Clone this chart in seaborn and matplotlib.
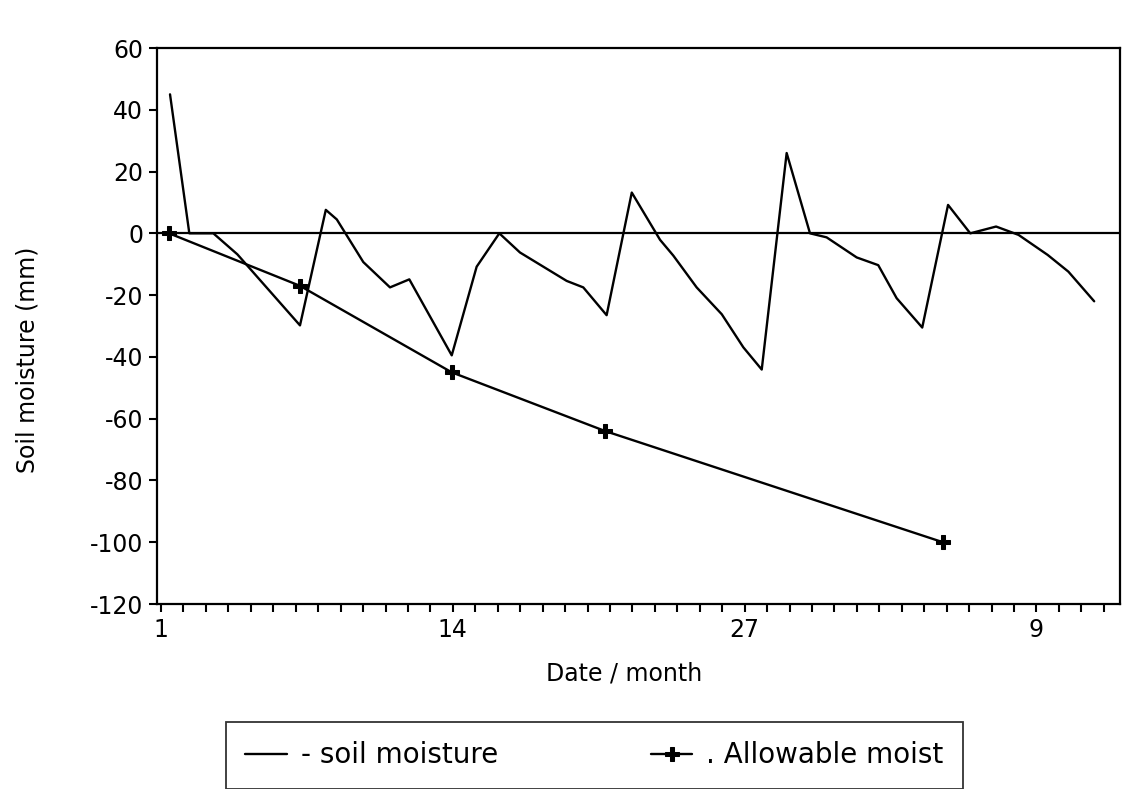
import matplotlib
matplotlib.use("Agg")
import matplotlib.pyplot as plt
import seaborn as sns

# soil moisture balance (x in days from day 1 of the month)
soil_day = [1.40, 2.26, 3.33, 4.40, 7.19, 8.34, 8.83, 10.01, 11.20, 12.06,
            13.95, 15.06, 16.07, 16.99, 19.07, 19.81, 20.85, 21.97, 23.23, 23.82,
            24.86, 25.98, 26.94, 27.76, 28.87, 29.91, 30.65, 31.99, 32.95, 33.77,
            34.91, 36.06, 37.05, 38.20, 39.20, 40.50, 41.42, 42.57]
soil_mm = [45, 0, 0, -6.8, -29.8, 7.6, 4.5, -9.3, -17.5, -14.9,
           -39.5, -10.8, 0, -6.2, -15.4, -17.5, -26.5, 13.2, -2.1, -7.2,
           -17.5, -26.2, -36.9, -44.1, 26, 0, -1.3, -7.8, -10.3, -21,
           -30.5, 9.2, 0, 2.2, -0.5, -7, -12.4, -22]

allow_day = [1.36, 7.19, 13.95, 20.78, 35.83]
allow_mm = [0, -17, -45, -64, -100]

tick_days = [1, 14, 27, 40]
tick_labels = ["1", "14", "27", "9"]
y_ticks = [-120, -100, -80, -60, -40, -20, 0, 20, 40, 60]

sns.set_style("ticks")
plt.rcParams['font.family'] = ['DejaVu Sans']
plt.rcParams.update({'text.color': 'black', 'axes.labelcolor': 'black',
                     'xtick.color': 'black', 'ytick.color': 'black'})

fig = plt.figure(figsize=(11.23, 7.89), dpi=100)
ax = fig.add_axes([157 / 1123, 185 / 789, 963 / 1123, 556 / 789])

ax.axhline(0, color='black', lw=1.6, zorder=1)
sns.lineplot(x=soil_day, y=soil_mm, color='black', lw=1.7, ax=ax,
             label='- soil moisture')
sns.lineplot(x=allow_day, y=allow_mm, color='black', lw=1.7, marker='P',
             markersize=10, markeredgecolor='black', ax=ax,
             label='. Allowable moist')

ax.set_xlim(0.82, 43.72)
ax.set_ylim(-120, 60)
ax.set_yticks(y_ticks)
ax.set_yticklabels([str(v) for v in y_ticks])
ax.set_xticks(tick_days)
ax.set_xticklabels(tick_labels)
ax.set_xticks(range(1, 44), minor=True)

ax.tick_params(axis='both', which='both', direction='out', length=6, width=1.5,
               color='black', labelsize=17, pad=4)
for s in ax.spines.values():
    s.set_visible(True)
    s.set_linewidth(1.6)
    s.set_color('black')

ax.set_xlabel('Date / month', fontsize=17)
ax.set_ylabel('Soil moisture (mm)', fontsize=17)
ax.xaxis.set_label_coords(0.485, -0.104)
ax.yaxis.set_label_coords(-0.122, 0.44)

handles, labels = ax.get_legend_handles_labels()
ax.get_legend().remove()
leg = fig.legend(handles, labels, loc='upper left', ncol=2, mode='expand',
                 bbox_to_anchor=(226 / 1123, 1 - 722 / 789 - 0.01, 737 / 1123, 0.01),
                 fontsize=20, frameon=True, fancybox=False, edgecolor='black',
                 handlelength=1.5, handletextpad=0.5, borderpad=0.7,
                 borderaxespad=0)
leg.get_frame().set_linewidth(1.3)

fig.savefig('out.png', dpi=100, facecolor='white')
